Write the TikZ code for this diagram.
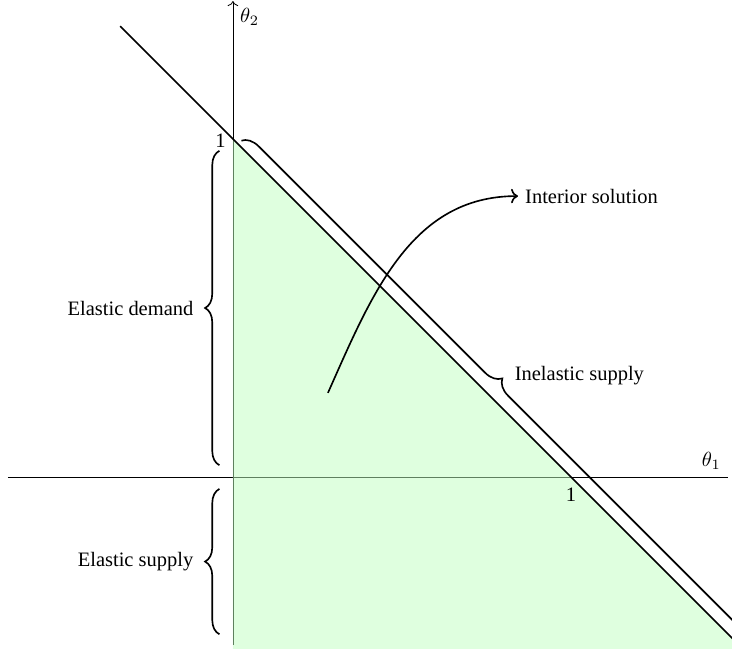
\documentclass[tikz,border=0pt]{standalone}
\usepackage{fontspec}
\setmainfont{Liberation Serif}
\usepackage{amsmath}
\usetikzlibrary{arrows.meta, positioning, calc, decorations.pathreplacing}
\definecolor{feasible}{RGB}{191,255,191}

\begin{document}
\begin{tikzpicture}[
  x=5.8cm, y=5.8cm,
  axis/.style={line width=0.4pt},
  boundary/.style={thick},
  bracedeco/.style={decorate, decoration={brace, amplitude=7pt}, thick},
  bracelabel/.style={font=\normalsize},
]
\useasboundingbox (-0.689,-0.506) rectangle (1.476,1.411);

% Axes
\coordinate (origin) at (0,0);
\coordinate (xleft) at (-0.666,0);
\coordinate (xright) at (1.464,0);
\coordinate (ybottom) at (0,-0.497);
\coordinate (ytop) at (0,1.408);
\draw[axis] (xleft) -- (xright) node[anchor=south east] (thetaone) {$\theta_1$};
\draw[axis, ->] (ybottom) -- (ytop) node[anchor=north west] (thetatwo) {$\theta_2$};

% Feasible region
\fill[feasible, fill opacity=0.5] (0,1) -- (1.6,-0.6) -- (0,-0.6) -- cycle;

% Budget line
\coordinate (lineleft) at (-1/3,4/3);
\coordinate (lineright) at (1.6,-0.6);
\draw[boundary] (lineleft) -- (lineright);

% Unit ticks
\node[left, yshift=-1pt] (yone) at (0,1) {1};
\node[below, yshift=-2pt] (xone) at (1,0) {1};

% Braces
\coordinate (demandlow) at (-0.04,0.035);
\coordinate (demandhigh) at (-0.04,0.965);
\draw[bracedeco] (demandlow) -- node[left=9pt, bracelabel] (demand) {Elastic demand} (demandhigh);

\coordinate (supplylow) at (-0.04,-0.465);
\coordinate (supplyhigh) at (-0.04,-0.035);
\draw[bracedeco] (supplylow) -- node[left=9pt, bracelabel] (supply) {Elastic supply} (supplyhigh);

\coordinate (inelstart) at (0.025,0.995);
\coordinate (inelend) at (1.5,-0.48);
\draw[bracedeco, decoration={amplitude=8pt}] (inelstart) -- node[anchor=west, xshift=8pt, yshift=7pt, bracelabel] (inelastic) {Inelastic supply} (inelend);

% Interior solution
\coordinate (intstart) at (0.281,0.249);
\node[anchor=west, bracelabel] (intsol) at (0.843,0.831) {Interior solution};
\draw[boundary, ->] (intstart) to[out=66, in=180] (intsol.west);

\end{tikzpicture}
\end{document}
